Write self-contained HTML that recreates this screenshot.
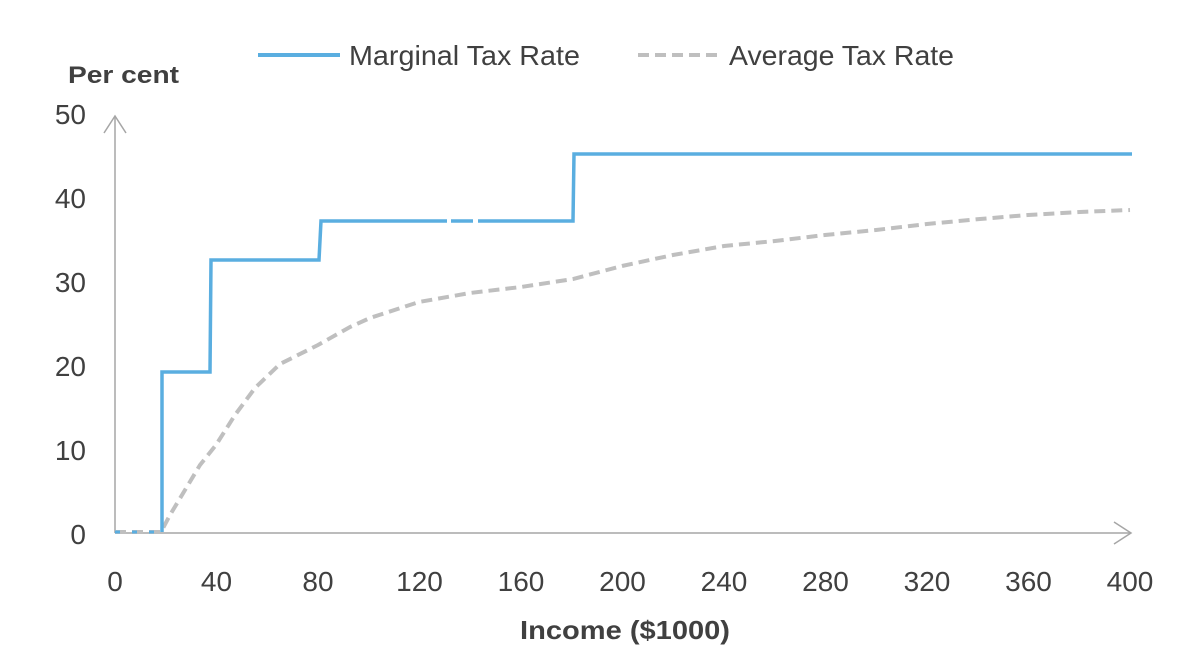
<!DOCTYPE html>
<html><head><meta charset="utf-8"><style>
html,body{margin:0;padding:0;background:#fff;}
svg text{font-family:"Liberation Sans Narrow","Liberation Sans",sans-serif;}
</style></head><body>
<svg width="1200" height="655" viewBox="0 0 1200 655" xmlns="http://www.w3.org/2000/svg">
<rect width="1200" height="655" fill="#fff"/>
<line x1="258" y1="55" x2="340" y2="55" stroke="#5aaee0" stroke-width="4"/>
<text x="349" y="65" font-size="28" fill="#404040" textLength="231" lengthAdjust="spacingAndGlyphs">Marginal Tax Rate</text>
<line x1="638" y1="55" x2="720" y2="55" stroke="#bfbfbf" stroke-width="4" stroke-dasharray="11,6"/>
<text x="729" y="65" font-size="28" fill="#404040" textLength="225" lengthAdjust="spacingAndGlyphs">Average Tax Rate</text>
<text x="68" y="83" font-size="24" font-weight="bold" fill="#404040" textLength="111" lengthAdjust="spacingAndGlyphs">Per cent</text>
<line x1="115" y1="533" x2="115" y2="116" stroke="#a6a6a6" stroke-width="1.5"/>
<polyline points="104,133 115,116 126,133" fill="none" stroke="#a6a6a6" stroke-width="1.5"/>
<line x1="115" y1="533" x2="1130" y2="533" stroke="#a6a6a6" stroke-width="1.5"/>
<polyline points="1114,522 1131,533 1114,544" fill="none" stroke="#a6a6a6" stroke-width="1.5"/>
<g font-size="28" fill="#404040" text-anchor="end">
<text x="86" y="544">0</text><text x="86" y="460">10</text><text x="86" y="376">20</text>
<text x="86" y="292">30</text><text x="86" y="208">40</text><text x="86" y="124">50</text>
</g>
<g font-size="28" fill="#404040" text-anchor="middle">
<text x="115" y="591">0</text><text x="216.5" y="591">40</text><text x="318" y="591">80</text>
<text x="419.5" y="591">120</text><text x="521" y="591">160</text><text x="622.5" y="591">200</text>
<text x="724" y="591">240</text><text x="825.5" y="591">280</text><text x="927" y="591">320</text>
<text x="1028.5" y="591">360</text><text x="1130" y="591">400</text>
</g>
<text x="625" y="639" font-size="26" font-weight="bold" fill="#404040" text-anchor="middle" textLength="210" lengthAdjust="spacingAndGlyphs">Income ($1000)</text>
<polyline fill="none" stroke="#bfbfbf" stroke-width="4" stroke-dasharray="11,6"
points="115,532 161,532 170,515 185,490 200,465 216,445 235,415 255,388 280,364 318,345 350,327 370,318 419,302 470,293 521,287 573,279 622,266 673,255 724,246 775,241 825,235 876,230 927,224 980,219 1028,215 1080,212 1130,210"/>
<line x1="115" y1="532" x2="161" y2="532" stroke="#5aaee0" stroke-width="3" stroke-dasharray="5,12"/>
<polyline fill="none" stroke="#5aaee0" stroke-width="3.5"
points="162,532 162,372 210,372 211,260 319,260 321,221 447,221"/>
<polyline fill="none" stroke="#5aaee0" stroke-width="3.5" points="451,221 473,221"/>
<polyline fill="none" stroke="#5aaee0" stroke-width="3.5"
points="478,221 573,221 574,154 1132,154"/>
</svg>
</body></html>
